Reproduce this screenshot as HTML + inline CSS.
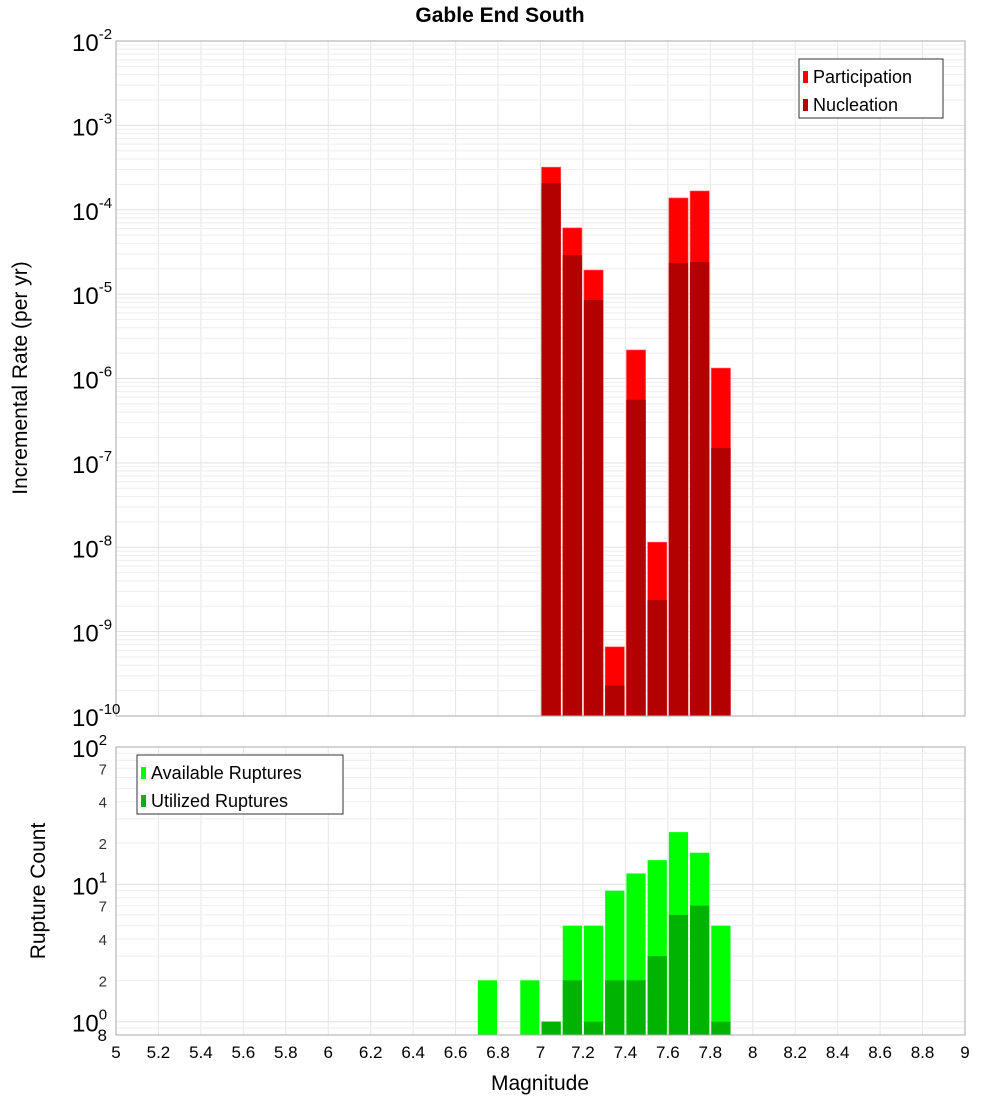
<!DOCTYPE html>
<html><head><meta charset="utf-8"><style>
body{margin:0;background:#fff;width:1000px;height:1100px;overflow:hidden}
text{font-family:"Liberation Sans","DejaVu Sans",sans-serif}
</style></head><body>
<svg id="c" width="1000" height="1100" xmlns="http://www.w3.org/2000/svg"></svg>
<script>
const bins=[7.0,7.1,7.2,7.3,7.4,7.5,7.6,7.7,7.8];
const participation=[3.2e-4,6.1e-5,1.93e-5,6.6e-10,2.18e-6,1.15e-8,1.38e-4,1.67e-4,1.33e-6];
const nucleation=[2.07e-4,2.9e-5,8.5e-6,2.3e-10,5.6e-7,2.37e-9,2.34e-5,2.4e-5,1.5e-7];
const countBins=[6.7,6.9,7.0,7.1,7.2,7.3,7.4,7.5,7.6,7.7,7.8];
const available=[2,2,1,5,5,9,12,15,24,17,5];
const utilized=[0,0,1,2,1,2,2,3,6,7,1];
const xTicks=[5,5.2,5.4,5.6,5.8,6,6.2,6.4,6.6,6.8,7,7.2,7.4,7.6,7.8,8,8.2,8.4,8.6,8.8,9];
const topExps=[-2,-3,-4,-5,-6,-7,-8,-9,-10];
const botMinor=[2,4,7,20,40,70];

const NS="http://www.w3.org/2000/svg";
const svg=document.getElementById('c');
function el(t,a,p){const e=document.createElementNS(NS,t);for(const k in a)e.setAttribute(k,a[k]);(p||svg).appendChild(e);return e;}
const X0=116,X1=965;
const xs=m=>X0+(m-5)/4*(X1-X0);
const T0=41,T1=716;
const yTop=v=>T0+(-2-Math.log10(v))/8*(T1-T0);
const B0=747,B1=1035,bMin=Math.log10(0.8);
const yBot=v=>B0+(2-Math.log10(v))/(2-bMin)*(B1-B0);

// title
let t=el('text',{x:500,y:22,'text-anchor':'middle','font-size':21,'font-weight':'bold'});t.textContent='Gable End South';


// grids
function grid(y0,y1,ys,minV,maxV,dec){
  const g=el('g',{});
  
  xTicks.forEach(m=>el('line',{x1:xs(m),x2:xs(m),y1:y0,y2:y1,stroke:'#e6e6e6'},g));
  for(let d=dec[0];d<dec[1];d++)for(let k=1;k<10;k++){const v=k*Math.pow(10,d);if(v<minV||v>maxV)continue;const y=ys(v);el('line',{x1:X0,x2:X1,y1:y,y2:y,stroke:k==1?'#e0e0e0':'#eeeeee'},g);}
}
grid(T0,T1,yTop,1e-10,1e-2,[-10,-1]);
grid(B0,B1,yBot,0.8,100,[-1,2]);

// top bars
bins.forEach((m,i)=>{
  const x=xs(m)+1,w=xs(m+0.1)-xs(m)-2;
  let r=el('rect',{x:x,y:yTop(participation[i]),width:w,height:T1-yTop(participation[i]),fill:'#ff0000',stroke:'#ff6666','stroke-width':0.6});
  
  r=el('rect',{x:x,y:yTop(nucleation[i]),width:w,height:T1-yTop(nucleation[i]),fill:'#b30000'});
  
});
// bottom bars
countBins.forEach((m,i)=>{
  const x=xs(m)+1,w=xs(m+0.1)-xs(m)-2;
  if(available[i]>0){let r=el('rect',{x:x,y:yBot(available[i]),width:w,height:B1-yBot(available[i]),fill:'#00ff00'});
  }
  if(utilized[i]>0){let r=el('rect',{x:x,y:yBot(utilized[i]),width:w,height:B1-yBot(utilized[i]),fill:'#00b300'});
  }
});
// frames
let f=el('rect',{x:X0,y:T0,width:X1-X0,height:T1-T0,fill:'none',stroke:'#aaa'});
f=el('rect',{x:X0,y:B0,width:X1-X0,height:B1-B0,fill:'none',stroke:'#aaa'});

// top y ticks
topExps.forEach(e=>{
  const y=yTop(Math.pow(10,e));
  const tx=el('text',{x:72,y:y+10,'font-size':24});
  
  tx.textContent='10';
  const s=el('tspan',{dy:-12,'font-size':15});s.textContent=String(e);tx.appendChild(s);
});
// bottom y ticks
[[0,1],[1,10],[2,100]].forEach(([e,v])=>{
  const y=yBot(v);
  const tx=el('text',{x:72,y:y+10,'font-size':24});
  
  tx.textContent='10';
  const s=el('tspan',{dy:-12,'font-size':15});s.textContent=String(e);tx.appendChild(s);
});
botMinor.forEach(v=>{
  const tx=el('text',{x:107,y:yBot(v)+6,'font-size':15,'text-anchor':'end',fill:'#333'});
  
  tx.textContent=String(v>=10?v/10:v);
});
t=el('text',{x:107,y:1041,'font-size':17,'text-anchor':'end'});t.textContent='8';

// x ticks
xTicks.forEach(m=>{
  const tx=el('text',{x:xs(m),y:1058,'font-size':17,'text-anchor':'middle'});
  
  tx.textContent=String(m);
});
t=el('text',{x:540,y:1090,'font-size':21,'text-anchor':'middle'});t.textContent='Magnitude';

t=el('text',{x:27,y:378,'font-size':21,'text-anchor':'middle',transform:'rotate(-90 27 378)'});t.textContent='Incremental Rate (per yr)';

t=el('text',{x:45,y:891,'font-size':21,'text-anchor':'middle',transform:'rotate(-90 45 891)'});t.textContent='Rupture Count';


// legends
function legend(x,y,w,items,name){
  const g=el('g',{});
  el('rect',{x:x,y:y,width:w,height:59,fill:'#fff',stroke:'#333'},g);
  items.forEach(([c,l],i)=>{
    el('rect',{x:x+4,y:y+12+i*28,width:5,height:12,fill:c},g);
    const tx=el('text',{x:x+14,y:y+24+i*28,'font-size':18},g);tx.textContent=l;
  });
}
legend(799,59,144,[['#ff0000','Participation'],['#b30000','Nucleation']],'top-legend');
legend(137,755,206,[['#00ff00','Available Ruptures'],['#00b300','Utilized Ruptures']],'bottom-legend');
</script>
</body></html>
